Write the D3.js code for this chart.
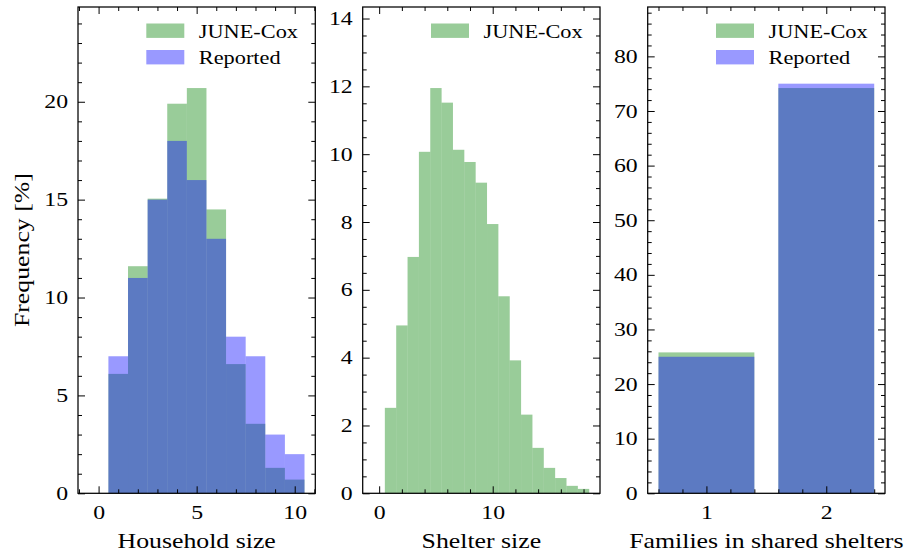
<!DOCTYPE html>
<html>
<head>
<meta charset="utf-8">
<script src="https://cdn.jsdelivr.net/npm/d3@7"></script>
<style>
  html, body { margin: 0; padding: 0; background: #fff; }
  svg { display: block; }
  svg text { font-family: "Liberation Serif", "DejaVu Serif", serif !important; }
</style>
</head>
<body>
<svg id="chart" width="912" height="559"></svg>
<script>
// ---------------- data ----------------
const householdSizes = [0, 1, 2, 3, 4, 5, 6, 7, 8, 9, 10];
const householdJune = [0, 6.1, 11.6, 15.05, 19.9, 20.7, 14.5, 6.6, 3.55, 1.3, 0.7];
const householdReported = [0, 7.0, 11.0, 15.0, 18.0, 16.0, 13.0, 8.0, 7.0, 3.0, 2.0];

const shelterSizes = [0, 1, 2, 3, 4, 5, 6, 7, 8, 9, 10, 11, 12, 13, 14, 15, 16, 17, 18];
const shelterJune = [0, 2.52, 4.95, 6.97, 10.07, 11.95, 11.52, 10.13, 9.77, 9.16, 7.94, 5.81, 3.92, 2.32, 1.34, 0.75, 0.45, 0.22, 0.13];

const familiesCategories = [1, 2];
const familiesJune = [25.8, 74.2];
const familiesReported = [25.0, 75.0];

const householdXTicks = [0, 5, 10];
const householdYTicks = [0, 5, 10, 15, 20];
const shelterXTicks = [0, 10];
const shelterYTicks = [0, 2, 4, 6, 8, 10, 12, 14];
const familiesXTicks = [1, 2];
const familiesYTicks = [0, 10, 20, 30, 40, 50, 60, 70, 80];

const seriesNames = ["JUNE-Cox", "Reported"];
const xLabels = ["Household size", "Shelter size", "Families in shared shelters"];
const yLabel = "Frequency [%]";

// ---------------- style ----------------
const FONT = "Liberation Serif, DejaVu Serif, serif";
const GREEN = "rgb(0,128,0)", BLUE = "rgb(0,0,255)", ALPHA = 0.4;
const TICK_FS = 19, TICK_SX = 1.25;
const LAB_FS = 21.5, LAB_SX = 1.2;
const LEG_FS = 18, LEG_SX = 1.24;

const svg = d3.select("#chart");
const TOP = 7, BOTTOM = 493.3, PW = 237.3;
const LEFTS = [78, 362.7, 647.7];

function scaledText(g, x, y, s, fs, sx, anchor, rot) {
  return g.append("text")
    .attr("transform", `translate(${x},${y})` + (rot ? ` rotate(${rot})` : "") + ` scale(${sx},1)`)
    .attr("text-anchor", anchor || "start")
    .attr("font-family", FONT)
    .attr("font-size", fs)
    .attr("fill", "#000")
    .text(s);
}

function range(a, b, step) {
  const out = [];
  const n = Math.round((b - a) / step);
  for (let i = 0; i <= n; i++) out.push(+(a + i * step).toFixed(6));
  return out;
}

function drawAxes(g, x, y, xMaj, xMin, yMaj, yMin) {
  const w = PW, h = BOTTOM - TOP;
  const xdom = x.domain(), ydom = y.domain();
  const inX = v => v >= Math.min(...xdom) - 1e-9 && v <= Math.max(...xdom) + 1e-9;
  const inY = v => v >= ydom[0] - 1e-9 && v <= ydom[1] + 1e-9;
  const xMinor = xMin.filter(inX).filter(v => !xMaj.includes(v));
  const yMinor = yMin.filter(inY).filter(v => !yMaj.includes(v));

  const fmt = d3.format("d");
  const bx = g.append("g").attr("transform", `translate(0,${h})`)
    .call(d3.axisBottom(x).tickValues(xMaj).tickSizeInner(-7).tickSizeOuter(0).tickPadding(12).tickFormat(fmt));
  g.append("g").attr("transform", `translate(0,${h})`)
    .call(d3.axisBottom(x).tickValues(xMinor).tickSizeInner(-4).tickSizeOuter(0).tickFormat(""));
  g.append("g").call(d3.axisTop(x).tickValues(xMaj).tickSizeInner(-7).tickSizeOuter(0).tickFormat(""));
  g.append("g").call(d3.axisTop(x).tickValues(xMinor).tickSizeInner(-4).tickSizeOuter(0).tickFormat(""));
  const ly = g.append("g")
    .call(d3.axisLeft(y).tickValues(yMaj).tickSizeInner(-7).tickSizeOuter(0).tickPadding(10).tickFormat(fmt));
  g.append("g").call(d3.axisLeft(y).tickValues(yMinor).tickSizeInner(-4).tickSizeOuter(0).tickFormat(""));
  g.append("g").attr("transform", `translate(${w},0)`)
    .call(d3.axisRight(y).tickValues(yMaj).tickSizeInner(-7).tickSizeOuter(0).tickFormat(""));
  g.append("g").attr("transform", `translate(${w},0)`)
    .call(d3.axisRight(y).tickValues(yMinor).tickSizeInner(-4).tickSizeOuter(0).tickFormat(""));

  g.selectAll(".domain").remove();
  g.selectAll("g").attr("font-family", FONT);
  g.selectAll(".tick line").attr("stroke", "#000").attr("stroke-width", 1);

  bx.selectAll("text")
    .attr("font-family", FONT).attr("font-size", TICK_FS).attr("fill", "#000")
    .attr("transform", `scale(${TICK_SX},1)`);
  ly.selectAll("text")
    .attr("font-family", FONT).attr("font-size", TICK_FS).attr("fill", "#000")
    .attr("x", -10 / TICK_SX)
    .attr("transform", `scale(${TICK_SX},1)`);

  g.append("rect").attr("x", 0).attr("y", 0).attr("width", w).attr("height", h)
    .attr("fill", "none").attr("stroke", "#000").attr("stroke-width", 1.25);
}

function legend(g, entries) {
  entries.forEach((e, i) => {
    const cy = 23.5 + i * 26.5 - TOP;
    g.append("rect").attr("x", PW - 169).attr("y", cy).attr("width", 38).attr("height", 14.4)
      .attr("fill", e.color).attr("fill-opacity", ALPHA);
    scaledText(g, PW - 116.5, cy + 14.3, e.name, LEG_FS, LEG_SX, "start");
  });
}

function histPanel(idx, cats, june, reported, xMaj, yMaj, xMinStep, yMinStep) {
  const g = svg.append("g").attr("transform", `translate(${LEFTS[idx]},${TOP})`);
  const h = BOTTOM - TOP;
  const lo = d3.min(cats) - 0.5, hi = d3.max(cats) + 0.5, m = 0.05 * (hi - lo);
  const x = d3.scaleLinear().domain([lo - m, hi + m]).range([0, PW]);
  const ymax = 1.2 * d3.max(june);
  const y = d3.scaleLinear().domain([0, ymax]).range([h, 0]);

  const bars = g.append("g");
  bars.selectAll("rect.june").data(cats).join("rect").attr("class", "june")
    .attr("x", d => x(d - 0.5)).attr("width", d => x(d + 0.5) - x(d - 0.5))
    .attr("y", (d, i) => y(june[i])).attr("height", (d, i) => y(0) - y(june[i]))
    .attr("fill", GREEN).attr("fill-opacity", ALPHA);
  if (reported) {
    bars.selectAll("rect.rep").data(cats).join("rect").attr("class", "rep")
      .attr("x", d => x(d - 0.5)).attr("width", d => x(d + 0.5) - x(d - 0.5))
      .attr("y", (d, i) => y(reported[i])).attr("height", (d, i) => y(0) - y(reported[i]))
      .attr("fill", BLUE).attr("fill-opacity", ALPHA);
  }
  const xd = x.domain();
  drawAxes(g, x, y, xMaj, range(Math.ceil(xd[0] / xMinStep) * xMinStep, Math.floor(xd[1] / xMinStep) * xMinStep, xMinStep),
           yMaj, range(0, Math.floor(ymax / yMinStep) * yMinStep, yMinStep));
  const ents = [{ name: seriesNames[0], color: GREEN }];
  if (reported) ents.push({ name: seriesNames[1], color: BLUE });
  legend(g, ents);
  scaledText(g, PW / 2, 548.3 - TOP, xLabels[idx], LAB_FS, LAB_SX, "middle");
  return g;
}

histPanel(0, householdSizes, householdJune, householdReported, householdXTicks, householdYTicks, 1, 1);
histPanel(1, shelterSizes, shelterJune, null, shelterXTicks, shelterYTicks, 2, 0.5);

(function () {
  const g = svg.append("g").attr("transform", `translate(${LEFTS[2]},${TOP})`);
  const h = BOTTOM - TOP;
  const bw = 0.8;
  const lo = d3.min(familiesCategories) - bw / 2, hi = d3.max(familiesCategories) + bw / 2, m = 0.05 * (hi - lo);
  const x = d3.scaleLinear().domain([lo - m, hi + m]).range([0, PW]);
  const ymax = 1.2 * d3.max(familiesJune);
  const y = d3.scaleLinear().domain([0, ymax]).range([h, 0]);
  g.selectAll("rect.june").data(familiesCategories).join("rect").attr("class", "june")
    .attr("x", d => x(d - bw / 2)).attr("width", d => x(d + bw / 2) - x(d - bw / 2))
    .attr("y", (d, i) => y(familiesJune[i])).attr("height", (d, i) => y(0) - y(familiesJune[i]))
    .attr("fill", GREEN).attr("fill-opacity", ALPHA);
  g.selectAll("rect.rep").data(familiesCategories).join("rect").attr("class", "rep")
    .attr("x", d => x(d - bw / 2)).attr("width", d => x(d + bw / 2) - x(d - bw / 2))
    .attr("y", (d, i) => y(familiesReported[i])).attr("height", (d, i) => y(0) - y(familiesReported[i]))
    .attr("fill", BLUE).attr("fill-opacity", ALPHA);
  drawAxes(g, x, y, familiesXTicks, range(0.6, 2.4, 0.2), familiesYTicks, range(0, 88, 2));
  legend(g, [{ name: seriesNames[0], color: GREEN }, { name: seriesNames[1], color: BLUE }]);
  scaledText(g, PW / 2, 548.3 - TOP, xLabels[2], LAB_FS, LAB_SX, "middle");
})();

scaledText(svg, 29, (TOP + BOTTOM) / 2, yLabel, LAB_FS, LAB_SX, "middle", -90);
</script>
</body>
</html>
